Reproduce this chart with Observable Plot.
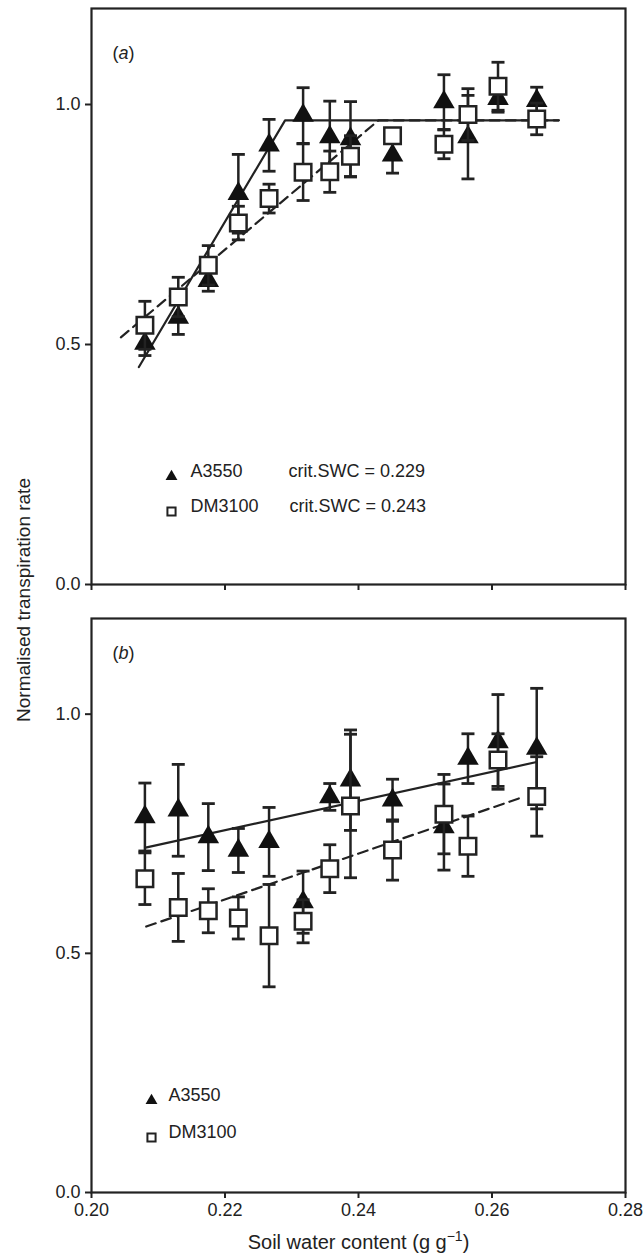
<!DOCTYPE html>
<html><head><meta charset="utf-8">
<script src="https://cdn.jsdelivr.net/npm/d3@7"></script>
<script src="https://cdn.jsdelivr.net/npm/@observablehq/plot@0.6"></script>
<style>
body{margin:0;background:#fff;}
#wrap{position:relative;width:643px;height:1260px;font-family:"Liberation Sans",Arial,sans-serif;color:#222;}
#wrap svg{display:block;}
#ylab{position:absolute;left:24px;top:600px;transform:translate(-50%,-50%) rotate(-90deg);white-space:nowrap;font-size:19px;}
g[aria-label$="tick"]{stroke-width:2px;}
</style></head><body><div id="wrap"><div id="ylab">Normalised transpiration rate</div></div>
<script>
// Soil water content (x) shared by both cultivars
const swc = [0.208, 0.213, 0.2175, 0.222, 0.2266, 0.2317, 0.2357, 0.2388, 0.2451, 0.2528, 0.2564, 0.2609, 0.2667];

// Panel (a)
const aA3550    = [0.502, 0.556, 0.633, 0.814, 0.915, 0.977, 0.932, 0.928, 0.894, 1.005, 0.932, 1.012, 1.008];
const aA3550Se  = [0.025, 0.035, 0.022, 0.082, 0.054, 0.058, 0.075, 0.078, 0.037, 0.057, 0.087, 0.028, 0.028];
const aDM3100   = [0.540, 0.599, 0.665, 0.753, 0.804, 0.859, 0.860, 0.892, 0.935, 0.917, 0.979, 1.038, 0.970];
const aDM3100Se = [0.050, 0.041, 0.041, 0.035, 0.030, 0.059, 0.043, 0.043, 0.010, 0.030, 0.054, 0.050, 0.033];
const aFitAx = [0.2071, 0.229, 0.270], aFitAy = [0.453, 0.967, 0.967];
const aFitDx = [0.2044, 0.243, 0.270], aFitDy = [0.515, 0.967, 0.967];

// Panel (b)
const bA3550    = [0.785, 0.799, 0.743, 0.715, 0.733, 0.607, 0.827, 0.862, 0.820, 0.764, 0.907, 0.942, 0.928];
const bA3550Se  = [0.071, 0.096, 0.070, 0.046, 0.072, 0.065, 0.028, 0.105, 0.044, 0.090, 0.052, 0.099, 0.126];
const bDM3100   = [0.656, 0.596, 0.589, 0.574, 0.537, 0.567, 0.677, 0.808, 0.716, 0.791, 0.724, 0.904, 0.828];
const bDM3100Se = [0.054, 0.071, 0.046, 0.044, 0.107, 0.045, 0.050, 0.150, 0.063, 0.083, 0.063, 0.055, 0.083];
const bFitAx = [0.2081, 0.2667], bFitAy = [0.721, 0.900];
const bFitDx = [0.2082, 0.2645], bFitDy = [0.556, 0.826];

const xTicks = [0.20, 0.22, 0.24, 0.26, 0.28];
const yTicks = [0.0, 0.5, 1.0];
const cultivars = ["A3550", "DM3100"];
const critSWC = ["crit.SWC = 0.229", "crit.SWC = 0.243"];

const ink = "#222";
const rows = (ys, se) => swc.map((x, i) => ({x, y: ys[i], lo: ys[i] - se[i], hi: ys[i] + se[i]}));
const pts = (xs, ys) => xs.map((x, i) => ({x, y: ys[i]}));
const cap = {draw(ctx) { ctx.moveTo(-6.5, 0); ctx.lineTo(6.5, 0); }};

function errMarks(data) {
  return [
    Plot.ruleX(data, {x: "x", y1: "lo", y2: "hi", stroke: ink, strokeWidth: 2.5}),
    Plot.dot(data, {x: "x", y: "hi", symbol: cap, r: 4, fill: "none", stroke: ink, strokeWidth: 2.8}),
    Plot.dot(data, {x: "x", y: "lo", symbol: cap, r: 4, fill: "none", stroke: ink, strokeWidth: 2.8})
  ];
}

function panel(o) {
  const A = rows(o.a, o.aSe), D = rows(o.d, o.dSe);
  const marks = [
    Plot.line(pts(o.fitAx, o.fitAy), {x: "x", y: "y", stroke: ink, strokeWidth: 2.2}),
    Plot.line(pts(o.fitDx, o.fitDy), {x: "x", y: "y", stroke: ink, strokeWidth: 2.2, strokeDasharray: "10,6"}),
    ...errMarks(A),
    Plot.dot(A, {x: "x", y: "y", symbol: "triangle", r: 8, fill: "#111", stroke: "none"}),
    ...errMarks(D),
    Plot.dot(D, {x: "x", y: "y", symbol: "square", r: 9.3, fill: "#fff", stroke: ink, strokeWidth: 2.5}),
    // panel letter
    Plot.text([o.letter], {frameAnchor: "top-left", dx: 21, dy: o.letterDy, textAnchor: "start", fontSize: 18, fill: ink}),
    // legend
    Plot.dot([0], {frameAnchor: "bottom-left", dx: o.lgX, dy: o.lgY1, symbol: "triangle", r: 4.4, fill: "#111", stroke: "none"}),
    Plot.dot([0], {frameAnchor: "bottom-left", dx: o.lgX, dy: o.lgY2, symbol: "square", r: 4.6, fill: "#fff", stroke: ink, strokeWidth: 2}),
    Plot.text([cultivars[0]], {frameAnchor: "bottom-left", dx: o.lgX + o.lgGap, dy: o.lgY1, textAnchor: "start", fontSize: 18, fill: ink}),
    Plot.text([cultivars[1]], {frameAnchor: "bottom-left", dx: o.lgX + o.lgGap, dy: o.lgY2, textAnchor: "start", fontSize: 18, fill: ink}),
    ...(o.crit ? [
      Plot.text([critSWC[0]], {frameAnchor: "bottom-left", dx: 197, dy: o.lgY1, textAnchor: "start", fontSize: 18, fill: ink}),
      Plot.text([critSWC[1]], {frameAnchor: "bottom-left", dx: 198, dy: o.lgY2, textAnchor: "start", fontSize: 18, fill: ink})
    ] : []),
    ...(o.title ? [Plot.text(["SWC_TITLE"], {frameAnchor: "bottom", dy: 56, fontSize: 20, fill: ink})] : []),
    Plot.frame({stroke: ink, strokeWidth: 2.2})
  ];
  return Plot.plot({
    width: 643, height: o.height,
    marginLeft: 91, marginRight: 18, marginTop: o.mt, marginBottom: o.mb,
    style: {fontFamily: "'Liberation Sans', Arial, sans-serif", fontSize: "18px", color: ink, background: "#fff"},
    x: {domain: [0.20, 0.28], ticks: xTicks, tickSize: 6, tickPadding: 5,
        tickFormat: o.xLabels ? d3.format(".2f") : () => "", label: null},
    y: {domain: [0, 1.2], ticks: yTicks, tickSize: 6, tickPadding: 5, tickFormat: d3.format(".1f"), label: null},
    marks
  });
}

const wrap = document.getElementById("wrap");
const pa = panel({a: aA3550, aSe: aA3550Se, d: aDM3100, dSe: aDM3100Se,
  fitAx: aFitAx, fitAy: aFitAy, fitDx: aFitDx, fitDy: aFitDy,
  letter: "(a)", letterDy: 38, lgX: 80, lgGap: 19, lgY1: -108, lgY2: -73, crit: true,
  height: 600, mt: 8, mb: 16, xLabels: false});
const pb = panel({a: bA3550, aSe: bA3550Se, d: bDM3100, dSe: bDM3100Se,
  fitAx: bFitAx, fitAy: bFitAy, fitDx: bFitDx, fitDy: bFitDy,
  letter: "(b)", letterDy: 28, lgX: 60, lgGap: 17, lgY1: -92, lgY2: -55, crit: false,
  height: 660, mt: 18, mb: 68, xLabels: true, title: true});
wrap.appendChild(pa);
wrap.appendChild(pb);

// italic panel letters and superscript unit
for (const svg of [pa, pb]) {
  svg.querySelectorAll("text").forEach(t => {
    const s = t.textContent;
    if (s === "(a)" || s === "(b)") {
      t.innerHTML = `(<tspan font-style="italic">${s[1]}</tspan>)`;
    } else if (s === "SWC_TITLE") {
      t.innerHTML = `Soil water content (g g<tspan dy="-8" font-size="14">\u22121</tspan><tspan dy="8">)</tspan>`;
    }
  });
}
</script></body></html>
